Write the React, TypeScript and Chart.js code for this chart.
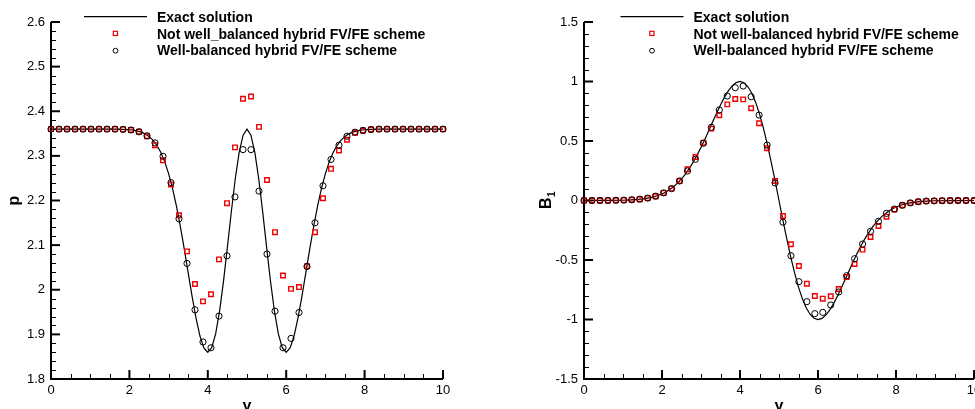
import { useEffect, useRef } from "react";
import { Chart, registerables } from "chart.js";

Chart.register(...registerables);

const FONT = "'Liberation Sans', Arial, Helvetica, sans-serif";
const RED = "#f00000";

// Mesh nodes where both schemes are sampled
const meshY = [
  0, 0.2041, 0.4082, 0.6122, 0.8163, 1.0204, 1.2245, 1.4286, 1.6327, 1.8367,
  2.0408, 2.2449, 2.449, 2.6531, 2.8571, 3.0612, 3.2653, 3.4694, 3.6735, 3.8776,
  4.0816, 4.2857, 4.4898, 4.6939, 4.898, 5.102, 5.3061, 5.5102, 5.7143, 5.9184,
  6.1224, 6.3265, 6.5306, 6.7347, 6.9388, 7.1429, 7.3469, 7.551, 7.7551, 7.9592,
  8.1633, 8.3673, 8.5714, 8.7755, 8.9796, 9.1837, 9.3878, 9.5918, 9.7959, 10,
];

// Exact solution samples
const exactY = [
  0, 0.5, 1, 1.2, 1.4, 1.6, 1.8,
  2.0, 2.1, 2.2, 2.3, 2.4, 2.5, 2.6, 2.7, 2.8, 2.9,
  3.0, 3.1, 3.2, 3.3, 3.4, 3.5, 3.6, 3.7, 3.8, 3.9,
  4.0, 4.1, 4.2, 4.3, 4.4, 4.5, 4.6, 4.7, 4.8, 4.9,
  5.0, 5.1, 5.2, 5.3, 5.4, 5.5, 5.6, 5.7, 5.8, 5.9,
  6.0, 6.1, 6.2, 6.3, 6.4, 6.5, 6.6, 6.7, 6.8, 6.9,
  7.0, 7.1, 7.2, 7.3, 7.4, 7.5, 7.6, 7.7, 7.8, 7.9,
  8.0, 8.2, 8.4, 8.6, 8.8, 9, 9.5, 10,
];
const exactP = [
  2.36, 2.36, 2.36, 2.36, 2.36, 2.3599, 2.3595,
  2.3585, 2.3575, 2.3558, 2.3532, 2.3494, 2.3436, 2.3353, 2.3237, 2.308, 2.2872,
  2.2604, 2.2273, 2.1875, 2.1417, 2.091, 2.0377, 1.9848, 1.9362, 1.8963, 1.8696,
  1.86, 1.8702, 1.9013, 1.952, 2.0186, 2.0954, 2.1747, 2.2482, 2.3078, 2.3465,
  2.36, 2.3465, 2.3078, 2.2482, 2.1747, 2.0954, 2.0186, 1.952, 1.9013, 1.8702,
  1.86, 1.8696, 1.8963, 1.9362, 1.9848, 2.0377, 2.091, 2.1417, 2.1875, 2.2273,
  2.2604, 2.2872, 2.308, 2.3237, 2.3353, 2.3436, 2.3494, 2.3532, 2.3558, 2.3575,
  2.3585, 2.3595, 2.3599, 2.36, 2.36, 2.36, 2.36, 2.36,
];
const exactB1 = [
  0, 0.0003, 0.0022, 0.0046, 0.0091, 0.0173, 0.0315,
  0.055, 0.0713, 0.0916, 0.1163, 0.1459, 0.1811, 0.2221, 0.2693, 0.3225, 0.3817,
  0.4463, 0.5152, 0.5873, 0.6608, 0.7335, 0.8029, 0.8663, 0.9207, 0.963, 0.9904,
  1.0, 0.9897, 0.9578, 0.9033, 0.8263, 0.7275, 0.6088, 0.4729, 0.3232, 0.1641,
  0, -0.1641, -0.3232, -0.4729, -0.6088, -0.7275, -0.8263, -0.9033, -0.9578, -0.9897,
  -1.0, -0.9904, -0.963, -0.9207, -0.8663, -0.8029, -0.7335, -0.6608, -0.5873, -0.5152,
  -0.4463, -0.3817, -0.3225, -0.2693, -0.2221, -0.1811, -0.1459, -0.1163, -0.0916, -0.0713,
  -0.055, -0.0315, -0.0173, -0.0091, -0.0046, -0.0022, -0.0003, 0,
];

// Pressure: not well-balanced and well-balanced hybrid FV/FE results
const pNotWB = [
  2.36, 2.36, 2.36, 2.36, 2.36, 2.36, 2.36, 2.36, 2.36, 2.3594,
  2.358, 2.354, 2.344, 2.324, 2.29, 2.236, 2.167, 2.086, 2.013, 1.974,
  1.99, 2.068, 2.194, 2.319, 2.428, 2.433, 2.365, 2.246, 2.129, 2.032,
  2.002, 2.006, 2.053, 2.129, 2.205, 2.271, 2.312, 2.336, 2.352, 2.357,
  2.359, 2.36, 2.36, 2.36, 2.36, 2.36, 2.36, 2.36, 2.36, 2.36,
];
const pWB = [
  2.36, 2.36, 2.36, 2.36, 2.36, 2.36, 2.36, 2.36, 2.36, 2.3594,
  2.358, 2.354, 2.345, 2.329, 2.299, 2.24, 2.159, 2.059, 1.955, 1.883,
  1.87, 1.941, 2.076, 2.208, 2.314, 2.314, 2.221, 2.08, 1.952, 1.87,
  1.891, 1.949, 2.052, 2.15, 2.233, 2.292, 2.324, 2.344, 2.353, 2.357,
  2.359, 2.36, 2.36, 2.36, 2.36, 2.36, 2.36, 2.36, 2.36, 2.36,
];

// Magnetic field B1: not well-balanced and well-balanced hybrid FV/FE results
const b1NotWB = [
  0, 0.0001, 0.0003, 0.0007, 0.0016, 0.003, 0.006, 0.011, 0.02, 0.036,
  0.064, 0.1, 0.164, 0.262, 0.366, 0.486, 0.604, 0.716, 0.808, 0.853,
  0.85, 0.775, 0.649, 0.439, 0.164, -0.13, -0.368, -0.55, -0.699, -0.803,
  -0.825, -0.805, -0.744, -0.643, -0.534, -0.413, -0.307, -0.214, -0.136, -0.076,
  -0.04, -0.02, -0.01, -0.005, -0.003, -0.0015, -0.0007, -0.0003, -0.0001, 0,
];
const b1WB = [
  0, 0.0001, 0.0003, 0.0007, 0.0016, 0.003, 0.006, 0.011, 0.02, 0.036,
  0.064, 0.1, 0.164, 0.248, 0.346, 0.481, 0.615, 0.761, 0.878, 0.948,
  0.962, 0.872, 0.718, 0.466, 0.148, -0.182, -0.464, -0.682, -0.85, -0.951,
  -0.94, -0.878, -0.769, -0.632, -0.489, -0.366, -0.259, -0.175, -0.108, -0.072,
  -0.04, -0.02, -0.01, -0.005, -0.003, -0.0015, -0.0007, -0.0003, -0.0001, 0,
];

const xTicks = [0, 2, 4, 6, 8, 10];
const xTickLabels = ["0", "2", "4", "6", "8", "10"];
const pTicks = [1.8, 1.9, 2.0, 2.1, 2.2, 2.3, 2.4, 2.5, 2.6];
const pTickLabels = ["1.8", "1.9", "2", "2.1", "2.2", "2.3", "2.4", "2.5", "2.6"];
const b1Ticks = [-1.5, -1, -0.5, 0, 0.5, 1, 1.5];
const b1TickLabels = ["-1.5", "-1", "-0.5", "0", "0.5", "1", "1.5"];

const legendP = [
  "Exact solution",
  "Not well_balanced hybrid FV/FE scheme",
  "Well-balanced hybrid FV/FE scheme",
];
const legendB1 = [
  "Exact solution",
  "Not well-balanced hybrid FV/FE scheme",
  "Well-balanced hybrid FV/FE scheme",
];

// Tecplot-like frame: inward ticks, axis lines, in-plot legend and axis titles
const framePlugin = {
  id: "frame",
  beforeDatasetsDraw(chart: any, _args: any, o: any) {
    const { ctx, chartArea: a } = chart;
    const xs = chart.scales.x;
    const ys = chart.scales.y;
    ctx.save();
    ctx.strokeStyle = "#000";
    const seg = (x1: number, y1: number, x2: number, y2: number, w: number) => {
      ctx.lineWidth = w;
      ctx.beginPath();
      ctx.moveTo(x1, y1);
      ctx.lineTo(x2, y2);
      ctx.stroke();
    };
    const nx = Math.round((xs.max - xs.min) / o.xMinor);
    for (let i = 0; i <= nx; i++) {
      const v = xs.min + i * o.xMinor;
      const r = v / o.xMajor;
      const major = Math.abs(r - Math.round(r)) < 1e-6;
      let px = xs.getPixelForValue(v);
      if (!major) px = Math.round(px) + 0.5;
      seg(px, a.bottom, px, a.bottom - (major ? 9 : 5), major ? 2 : 1);
    }
    const ny = Math.round((ys.max - ys.min) / o.yMinor);
    for (let i = 0; i <= ny; i++) {
      const v = ys.min + i * o.yMinor;
      const r = (v - ys.min) / o.yMajor;
      const major = Math.abs(r - Math.round(r)) < 1e-6;
      let py = ys.getPixelForValue(v);
      if (!major) py = Math.round(py) + 0.5;
      seg(a.left, py, a.left + (major ? 9 : 5), py, major ? 2 : 1);
    }
    ctx.lineWidth = 2;
    ctx.beginPath();
    ctx.moveTo(a.left, a.top);
    ctx.lineTo(a.left, a.bottom);
    ctx.lineTo(a.right, a.bottom);
    ctx.stroke();
    ctx.restore();
  },
  afterDraw(chart: any, _args: any, o: any) {
    const { ctx, chartArea: a } = chart;
    ctx.save();
    // legend
    const x0 = a.left + o.legendDx;
    ctx.strokeStyle = "#000";
    ctx.lineWidth = 1.2;
    ctx.beginPath();
    ctx.moveTo(x0 + 33, 16.7);
    ctx.lineTo(x0 + 96, 16.7);
    ctx.stroke();
    ctx.strokeStyle = RED;
    ctx.lineWidth = 1.2;
    ctx.strokeRect(x0 + 62.3, 31.3, 4.2, 4.2);
    ctx.strokeStyle = "#000";
    ctx.lineWidth = 1;
    ctx.beginPath();
    ctx.arc(x0 + 64.5, 50.7, 2.4, 0, Math.PI * 2);
    ctx.stroke();
    ctx.fillStyle = "#000";
    ctx.font = `bold 14px ${FONT}`;
    ctx.textAlign = "left";
    ctx.textBaseline = "alphabetic";
    const baselines = [22, 38.5, 55.2];
    o.labels.forEach((t: string, i: number) => ctx.fillText(t, x0 + 106, baselines[i]));

    // axis titles
    const midX = (a.left + a.right) / 2;
    const midY = (a.top + a.bottom) / 2;
    ctx.font = `bold 16px ${FONT}`;
    ctx.textAlign = "center";
    ctx.fillText(o.xTitle, midX, a.bottom + 32);

    ctx.translate(a.left - o.yTitleDx, midY);
    ctx.rotate(-Math.PI / 2);
    ctx.textAlign = "left";
    ctx.textBaseline = "middle";
    ctx.font = `bold 16px ${FONT}`;
    const wMain = ctx.measureText(o.yTitle).width;
    let wSub = 0;
    if (o.yTitleSub) {
      ctx.font = `bold 10px ${FONT}`;
      wSub = ctx.measureText(o.yTitleSub).width;
    }
    const start = -(wMain + wSub) / 2;
    ctx.font = `bold 16px ${FONT}`;
    ctx.fillText(o.yTitle, start, 0);
    if (o.yTitleSub) {
      ctx.font = `bold 10px ${FONT}`;
      ctx.fillText(o.yTitleSub, start + wMain + 0.5, 5);
    }
    ctx.restore();
  },
};

type PanelProps = {
  left: number;
  width: number;
  axisWidth: number;
  padRight: number;
  yMin: number;
  yMax: number;
  yTicks: number[];
  yTickLabels: string[];
  yMinor: number;
  yMajor: number;
  exact: number[];
  notWB: number[];
  wb: number[];
  labels: string[];
  legendDx: number;
  yTitle: string;
  yTitleSub?: string;
  yTitleDx: number;
};

function Panel(props: PanelProps) {
  const ref = useRef<HTMLCanvasElement | null>(null);
  useEffect(() => {
    if (!ref.current) return;
    const chart = new Chart(ref.current, {
      type: "scatter",
      data: {
        datasets: [
          {
            label: props.labels[0],
            data: exactY.map((x, i) => ({ x, y: props.exact[i] })),
            showLine: true,
            borderColor: "#000",
            borderWidth: 1.2,
            pointRadius: 0,
            tension: 0,
            clip: false,
            order: 3,
          } as any,
          {
            label: props.labels[1],
            data: meshY.map((x, i) => ({ x, y: props.notWB[i] })),
            pointStyle: "rect",
            pointRadius: 3.2,
            borderColor: RED,
            backgroundColor: "rgba(255,255,255,0)",
            borderWidth: 1.4,
            clip: false,
            order: 2,
          } as any,
          {
            label: props.labels[2],
            data: meshY.map((x, i) => ({ x, y: props.wb[i] })),
            pointStyle: "circle",
            pointRadius: 3.1,
            borderColor: "#000",
            backgroundColor: "rgba(255,255,255,0)",
            borderWidth: 1,
            clip: false,
            order: 1,
          } as any,
        ],
      },
      options: {
        animation: false,
        responsive: false,
        devicePixelRatio: 1,
        events: [],
        layout: { padding: { left: 0, top: 22, right: props.padRight, bottom: 0 } },
        scales: {
          x: {
            type: "linear",
            min: 0,
            max: 10,
            grid: { display: false, drawTicks: false },
            border: { display: false },
            afterBuildTicks: (s: any) => {
              s.ticks = xTicks.map((v) => ({ value: v }));
            },
            afterFit: (s: any) => {
              s.height = 30;
            },
            ticks: {
              autoSkip: false,
              maxRotation: 0,
              padding: 4,
              color: "#000",
              font: { family: FONT, size: 13 },
              callback: (_v: any, i: number) => xTickLabels[i],
            },
          },
          y: {
            type: "linear",
            min: props.yMin,
            max: props.yMax,
            grid: { display: false, drawTicks: false },
            border: { display: false },
            afterBuildTicks: (s: any) => {
              s.ticks = props.yTicks.map((v) => ({ value: v }));
            },
            afterFit: (s: any) => {
              s.width = props.axisWidth;
            },
            ticks: {
              autoSkip: false,
              padding: 6,
              color: "#000",
              font: { family: FONT, size: 13 },
              callback: (_v: any, i: number) => props.yTickLabels[i],
            },
          },
        },
        plugins: {
          legend: { display: false },
          tooltip: { enabled: false },
          frame: {
            xMinor: 0.5,
            xMajor: 2,
            yMinor: props.yMinor,
            yMajor: props.yMajor,
            labels: props.labels,
            legendDx: props.legendDx,
            xTitle: "y",
            yTitle: props.yTitle,
            yTitleSub: props.yTitleSub || "",
            yTitleDx: props.yTitleDx,
          },
        } as any,
      },
      plugins: [framePlugin as any],
    });
    return () => chart.destroy();
  }, []);
  return (
    <canvas
      ref={ref}
      width={props.width}
      height={409}
      style={{ position: "absolute", left: props.left, top: 0, width: props.width, height: 409 }}
    />
  );
}

export default function App() {
  return (
    <div
      style={{
        position: "absolute",
        left: 0,
        top: 0,
        width: 975,
        height: 409,
        overflow: "hidden",
        background: "#fff",
      }}
    >
      <Panel
        left={0}
        width={490}
        axisWidth={51}
        padRight={47}
        yMin={1.8}
        yMax={2.6}
        yTicks={pTicks}
        yTickLabels={pTickLabels}
        yMinor={0.02}
        yMajor={0.1}
        exact={exactP}
        notWB={pNotWB}
        wb={pWB}
        labels={legendP}
        legendDx={0}
        yTitle="p"
        yTitleDx={36}
      />
      <Panel
        left={490}
        width={510}
        axisWidth={94}
        padRight={26}
        yMin={-1.5}
        yMax={1.5}
        yTicks={b1Ticks}
        yTickLabels={b1TickLabels}
        yMinor={0.1}
        yMajor={0.5}
        exact={exactB1}
        notWB={b1NotWB}
        wb={b1WB}
        labels={legendB1}
        legendDx={3.5}
        yTitle="B"
        yTitleSub="1"
        yTitleDx={37}
      />
    </div>
  );
}
